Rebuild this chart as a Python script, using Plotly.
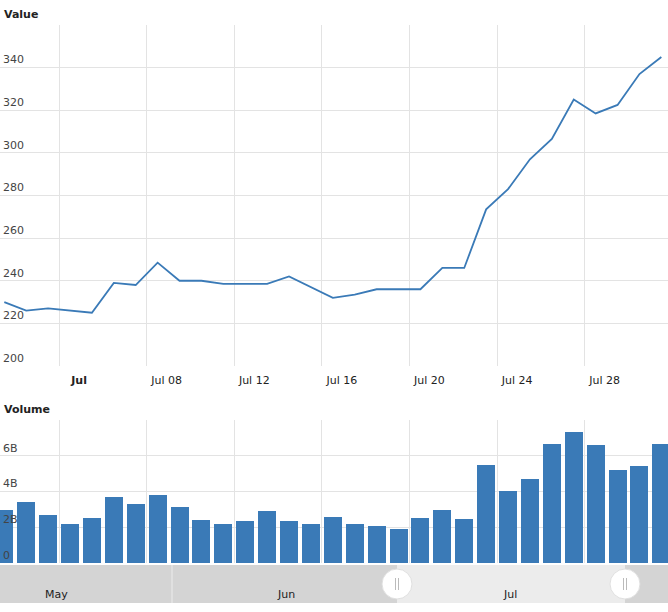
import plotly.graph_objects as go
import pandas as pd

dates = pd.date_range("2021-07-01 12:00", periods=31, freq="D")
values = [230, 226, 227, 226, 225, 239, 238, 248.5, 240, 240, 238.5, 238.5, 238.5, 242, 237, 232,
          233.5, 236, 236, 236, 246, 246, 273.5, 283, 297, 306.5, 325, 318.5, 322.5, 337, 345]
volume = [2.95, 3.4, 2.7, 2.2, 2.5, 3.7, 3.3, 3.8, 3.15, 2.4, 2.2, 2.35, 2.9, 2.35, 2.2, 2.55,
          2.2, 2.05, 1.9, 2.5, 2.95, 2.45, 5.5, 4.05, 4.7, 6.65, 7.35, 6.6, 5.2, 5.45, 6.65]
volume = [v * 1e9 for v in volume]
tick_dates = ["2021-07-04", "2021-07-08", "2021-07-12", "2021-07-16", "2021-07-20", "2021-07-24", "2021-07-28"]
tick_text = ["<b>Jul</b>", "Jul 08", "Jul 12", "Jul 16", "Jul 20", "Jul 24", "Jul 28"]
nav_labels = ["May", "Jun", "Jul"]

W, H = 668, 612
def py(p):
    return 1 - p / H

blue = "#3a7ab7"
xr = [pd.Timestamp("2021-07-01 07:17"), pd.Timestamp("2021-07-31 19:17")]
grid = "#e3e3e3"
font = dict(family="DejaVu Sans", size=11, color="#222")

fig = go.Figure()
fig.add_trace(go.Scatter(x=dates, y=values, mode="lines", line=dict(color=blue, width=1.8),
                         xaxis="x", yaxis="y", showlegend=False))
fig.add_trace(go.Bar(x=dates, y=volume, marker=dict(color=blue, line=dict(width=0)),
                     width=0.82 * 86400000, xaxis="x2", yaxis="y2", showlegend=False))

common_x = dict(range=xr, tickvals=tick_dates, showgrid=True, gridcolor=grid, zeroline=False,
                showline=False, ticks="", fixedrange=True)
fig.update_layout(
    width=W, height=H, margin=dict(l=0, r=0, t=0, b=0),
    plot_bgcolor="white", paper_bgcolor="white", font=font, bargap=0,
    xaxis=dict(domain=[0, 1], anchor="y", ticktext=tick_text, ticklabelshift=20,
               ticklabelstandoff=6, **common_x),
    yaxis=dict(domain=[py(366), py(25)], range=[200, 360], tickvals=[200, 220, 240, 260, 280, 300, 320, 340, 360],
               ticktext=["200", "220", "240", "260", "280", "300", "320", "340", ""],
               ticklabelposition="inside", ticklabelshift=-8, showgrid=True, gridcolor=grid,
               zeroline=False, fixedrange=True),
    xaxis2=dict(domain=[0, 1], anchor="y2", showticklabels=False, **common_x),
    yaxis2=dict(domain=[py(563), py(420)], range=[0, 8e9], tickvals=[0, 2e9, 4e9, 6e9, 8e9],
                ticktext=["0", "2B", "4B", "6B", ""], ticklabelposition="inside", ticklabelshift=-8,
                showgrid=True, gridcolor=grid, zeroline=False, fixedrange=True),
)

shapes = [
    dict(type="rect", xref="paper", yref="paper", x0=0, x1=1, y0=py(603), y1=py(565),
         fillcolor="#d4d4d4", line=dict(width=0), layer="below"),
    dict(type="rect", xref="paper", yref="paper", x0=397 / W, x1=625 / W, y0=py(603), y1=py(565),
         fillcolor="#ececec", line=dict(width=0), layer="below"),
    dict(type="line", xref="paper", yref="paper", x0=172 / W, x1=172 / W, y0=py(603), y1=py(565),
         line=dict(color="#ececec", width=1)),
]
for cx in [397, 625]:
    shapes.append(dict(type="circle", xref="paper", yref="paper", x0=(cx - 15) / W, x1=(cx + 15) / W,
                       y0=py(599), y1=py(569), fillcolor="white", line=dict(color="#e0e0e0", width=1)))
    for dx in [-1.5, 1.5]:
        shapes.append(dict(type="line", xref="paper", yref="paper", x0=(cx + dx) / W, x1=(cx + dx) / W,
                           y0=py(590), y1=py(578), line=dict(color="#bbb", width=1)))
fig.update_layout(shapes=shapes)

ann = [
    dict(text="<b>Value</b>", x=2 / W, y=py(6), xanchor="left", yanchor="top"),
    dict(text="<b>Volume</b>", x=2 / W, y=py(401), xanchor="left", yanchor="top"),
]
for lab, xp in zip(nav_labels, [56, 286, 510]):
    ann.append(dict(text=lab, x=xp / W, y=py(594), xanchor="center", yanchor="middle"))
for a in ann:
    a.update(xref="paper", yref="paper", showarrow=False, font=font)
fig.update_layout(annotations=ann)

fig.write_html("out.html", config={"displayModeBar": False},
               post_script="document.body.style.margin='0';document.body.style.padding='0';")
